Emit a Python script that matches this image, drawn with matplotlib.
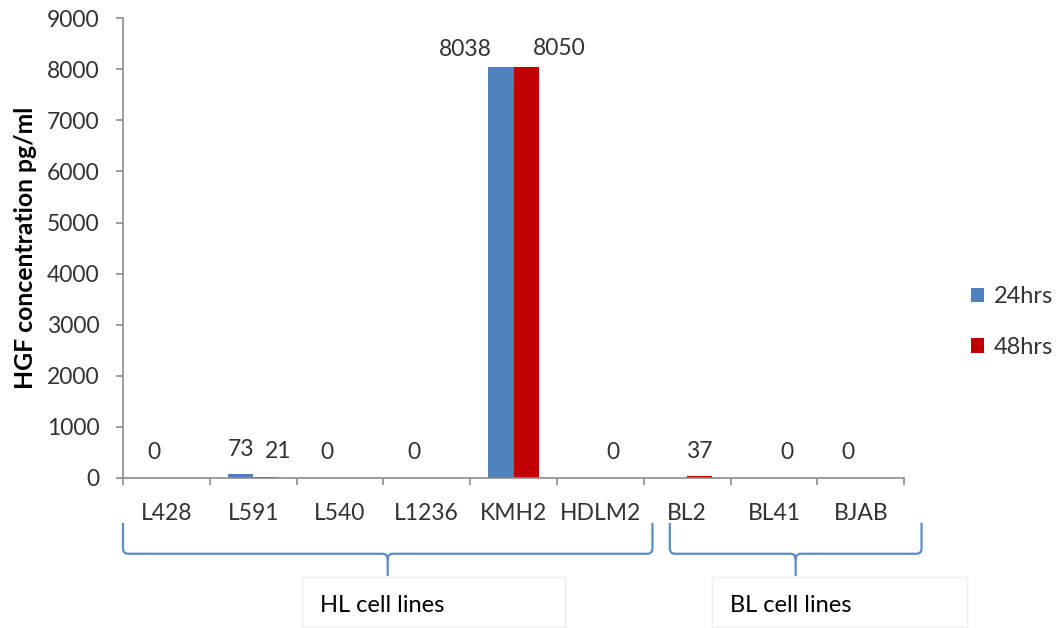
import numpy as np
import matplotlib
matplotlib.use("Agg")
import matplotlib.pyplot as plt
from matplotlib.path import Path
from matplotlib.patches import PathPatch, Rectangle
from matplotlib.transforms import blended_transform_factory

plt.rcParams['font.family'] = ['Lato', 'DejaVu Sans']

cell_lines = ['L428', 'L591', 'L540', 'L1236', 'KMH2', 'HDLM2', 'BL2', 'BL41', 'BJAB']
hgf_24h = [0, 73, 0, 0, 8038, np.nan, np.nan, np.nan, 0]
hgf_48h = [np.nan, 21, np.nan, np.nan, 8050, 0, 37, 0, np.nan]
series_names = ['24hrs', '48hrs']
series_colors = ['#4f81bd', '#c00000']
yticks = [0, 1000, 2000, 3000, 4000, 5000, 6000, 7000, 8000, 9000]

# brace spans along the category axis, with the group caption
groups = [('HL cell lines', -0.5, 5.6), ('BL cell lines', 5.8, 8.7)]

# sideways nudges (points) for a few value labels
label_shift = {(0, 4): -26, (1, 4): 24, (1, 1): 9}

text_color = '#333333'
axis_color = '#8c8c8c'
fs = 16.5

fig = plt.figure(figsize=(10.6, 6.28), dpi=100)
ax = fig.add_axes([0.116, 0.239, 0.737, 0.732])

x = np.arange(len(cell_lines))
w = 0.29
bars = []
for k, (vals, name, col) in enumerate(zip([hgf_24h, hgf_48h], series_names, series_colors)):
    pos = x + (k - 0.5) * w
    b = ax.bar(pos, vals, width=w, color=col, label=name)
    bars.append(b)
    for i, v in enumerate(vals):
        if np.isnan(v):
            continue
        dy = 13 if v > 1000 else 18
        ax.annotate(f'{v:.0f}', (pos[i], v), xytext=(label_shift.get((k, i), 0), dy),
                    textcoords='offset points', ha='center', va='center',
                    fontsize=fs, color=text_color)

ax.set_ylim(0, 9000)
ax.set_xlim(-0.5, len(cell_lines) - 0.5)
ax.set_yticks(yticks)
ax.set_xticks(np.arange(len(cell_lines) + 1) - 0.5)
ax.set_xticklabels([])
ax.set_xticks(x, minor=True)
ax.set_xticklabels(cell_lines, minor=True)
ax.tick_params(axis='x', which='major', direction='out', length=5, width=1.2, color=axis_color)
ax.tick_params(axis='x', which='minor', length=0, pad=18, labelsize=fs, labelcolor=text_color)
ax.tick_params(axis='y', direction='out', length=5, width=1.2, color=axis_color,
               pad=12, labelsize=fs, labelcolor=text_color)
for side in ['top', 'right']:
    ax.spines[side].set_visible(False)
for side in ['left', 'bottom']:
    ax.spines[side].set_color(axis_color)
    ax.spines[side].set_linewidth(1.2)

fig.text(0.024, 0.605, 'HGF concentration pg/ml', rotation=90, ha='center', va='center',
         fontsize=17.8, fontweight='bold', color='black')

# group braces under the category labels
trans = blended_transform_factory(ax.transData, ax.transAxes)
y_top, y_bot, y_tip = -0.098, -0.165, -0.213
rx, ry = 0.06, 0.012
for name, x0, x1 in groups:
    xm = (x0 + x1) / 2
    verts = [(x0, y_top), (x0, y_bot + ry), (x0, y_bot), (x0 + rx, y_bot),
             (xm - rx, y_bot), (xm, y_bot), (xm, y_bot - ry), (xm, y_tip),
             (x1, y_top), (x1, y_bot + ry), (x1, y_bot), (x1 - rx, y_bot),
             (xm + rx, y_bot), (xm, y_bot), (xm, y_bot - ry)]
    codes = [Path.MOVETO, Path.LINETO, Path.CURVE3, Path.CURVE3,
             Path.LINETO, Path.CURVE3, Path.CURVE3, Path.LINETO,
             Path.MOVETO, Path.LINETO, Path.CURVE3, Path.CURVE3,
             Path.LINETO, Path.CURVE3, Path.CURVE3]
    ax.add_patch(PathPatch(Path(verts, codes), transform=trans, fill=False,
                           edgecolor='#5b8cc8', linewidth=1.6, clip_on=False))

# caption boxes for the two groups
for (name, x0, x1), (bx, bw) in zip(groups, [(302, 263), (712, 255)]):
    fig.add_artist(Rectangle((bx / 1060, 0.002), bw / 1060, 50 / 628, transform=fig.transFigure,
                             facecolor='white', edgecolor='#eeeeee', linewidth=1))
    fig.text((bx + 18) / 1060, 1 - 605 / 628, name, ha='left', va='center',
             fontsize=17, color='black')

fig.legend(handles=bars, loc='center left', bbox_to_anchor=(0.905, 1 - 322 / 628),
           frameon=False, fontsize=17, handlelength=0.55, handleheight=0.55,
           handletextpad=0.4, labelspacing=1.25, borderpad=0, labelcolor=text_color)

fig.savefig('out.png', dpi=100)
